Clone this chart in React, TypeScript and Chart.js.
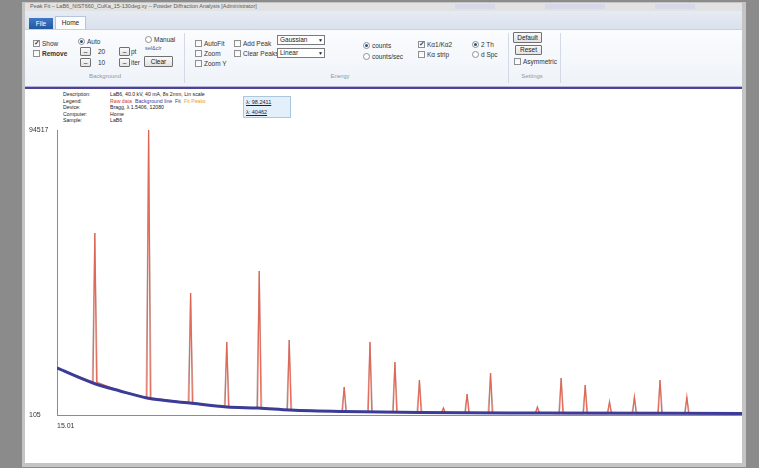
import React, { useEffect, useRef } from "react";
import { Chart, registerables } from "chart.js";

Chart.register(...registerables);

// LaB6 reference scan, Cu Kα — reflection positions (2θ, °) and peak intensities (counts)
const peakAngles = [21.36, 30.39, 37.44, 43.51, 48.96, 53.99, 63.22, 67.55, 71.74, 75.85, 79.88, 83.85, 87.79, 95.66, 99.64, 103.68, 107.76, 111.94, 116.24, 120.74];
const peakCounts = [60400, 94517, 40520, 24290, 47810, 24950, 9380, 24290, 17660, 11700, 2420, 7060, 14020, 2760, 12360, 10040, 4410, 6070, 11700, 6070];
// background level under each reflection
const peakBase = [11040, 5740, 4080, 2760, 2420, 1760, 1260, 1100, 1100, 930, 770, 770, 770, 770, 600, 600, 600, 600, 600, 600];

// fitted background line
const bgAngles = [15.01, 21.05, 25.59, 30.12, 37.34, 43.55, 48.75, 54.12, 63.02, 75.95, 96.09, 130];
const bgCounts = [15680, 10710, 8060, 5740, 4080, 2760, 2420, 1760, 1260, 930, 770, 600];

const xMin = 15.01;
const xMax = 130;
const yMin = 105;
const yMax = 94517;

const rawHalfWidth = 0.3;
const fitHalfWidth = 0.45;

type P = { x: number; y: number | null };

function rawProfile(): P[] {
  const pts: P[] = [];
  bgAngles.forEach((a, i) => {
    if (!peakAngles.some((p) => Math.abs(p - a) < rawHalfWidth + 0.05)) pts.push({ x: a, y: bgCounts[i] });
  });
  peakAngles.forEach((p, i) => {
    pts.push({ x: p - rawHalfWidth, y: peakBase[i] });
    pts.push({ x: p, y: peakCounts[i] });
    pts.push({ x: p + rawHalfWidth, y: peakBase[i] });
  });
  return pts.sort((a, b) => a.x - b.x);
}

function fitProfile(): P[] {
  const pts: P[] = [];
  peakAngles.forEach((p, i) => {
    pts.push({ x: p - fitHalfWidth, y: peakBase[i] });
    pts.push({ x: p, y: peakCounts[i] });
    pts.push({ x: p + fitHalfWidth, y: peakBase[i] });
    pts.push({ x: p + fitHalfWidth + 0.01, y: null });
  });
  return pts;
}

const UI = '"Liberation Sans", Arial, sans-serif';

function Txt(props: { x: number; y: number; s: string; size?: number; color?: string; bold?: boolean; w?: number; center?: boolean; underline?: boolean }) {
  const { x, y, s, size = 6.5, color = "#333", bold, w, center, underline } = props;
  return (
    <div
      style={{
        position: "absolute",
        left: x,
        top: y,
        width: w,
        textAlign: center ? "center" : "left",
        fontSize: size,
        lineHeight: `${size + 1}px`,
        color,
        fontWeight: bold ? 700 : 400,
        whiteSpace: "nowrap",
        textDecoration: underline ? "underline" : "none",
        fontFamily: UI,
      }}
    >
      {s}
    </div>
  );
}

function Box(props: { x: number; y: number; w: number; h: number; bg?: string; border?: string; radius?: number; children?: React.ReactNode }) {
  const { x, y, w, h, bg = "transparent", border, radius = 0, children } = props;
  return (
    <div
      style={{
        position: "absolute",
        left: x,
        top: y,
        width: w,
        height: h,
        background: bg,
        border: border ? `1px solid ${border}` : undefined,
        borderRadius: radius,
        boxSizing: "border-box",
      }}
    >
      {children}
    </div>
  );
}

function Check(props: { x: number; y: number; label: string; checked?: boolean; bold?: boolean }) {
  const { x, y, label, checked, bold } = props;
  return (
    <>
      <Box x={x} y={y} w={7} h={7} bg="linear-gradient(#f4f4f4,#ffffff)" border="#8e8f8f" />
      {checked && <Txt x={x + 0.5} y={y - 1.5} s="✓" size={7} color="#2a4a7a" bold />}
      <Txt x={x + 9} y={y - 0.5} s={label} bold={bold} />
    </>
  );
}

function Radio(props: { x: number; y: number; label: string; on?: boolean }) {
  const { x, y, label, on } = props;
  return (
    <>
      <Box x={x} y={y} w={7} h={7} bg="#fff" border="#8e8f8f" radius={4} />
      {on && <Box x={x + 2} y={y + 2} w={3} h={3} bg="#2f4f7f" radius={2} />}
      <Txt x={x + 9} y={y - 0.5} s={label} />
    </>
  );
}

function Btn(props: { x: number; y: number; w: number; h: number; label: string }) {
  const { x, y, w, h, label } = props;
  return (
    <Box x={x} y={y} w={w} h={h} bg="linear-gradient(#f9f9f9,#e3e3e3)" border="#707070" radius={1}>
      <div style={{ fontSize: 6.5, lineHeight: `${h - 2}px`, textAlign: "center", color: "#222", fontFamily: UI }}>{label}</div>
    </Box>
  );
}

function Combo(props: { x: number; y: number; w: number; label: string }) {
  const { x, y, w, label } = props;
  return (
    <Box x={x} y={y} w={w} h={10} bg="#fff" border="#7a7a7a">
      <div style={{ position: "absolute", left: 2, top: 0, fontSize: 6.5, lineHeight: "8px", color: "#222", fontFamily: UI }}>{label}</div>
      <div style={{ position: "absolute", right: 1, top: 0, fontSize: 5, lineHeight: "8px", color: "#222" }}>▼</div>
    </Box>
  );
}

function Ribbon() {
  return (
    <>
      {/* window frame */}
      <Box x={22} y={2} w={724} h={465} bg="#c4c4c4" />
      {/* title bar */}
      <Box x={25} y={3} w={717} h={8} bg="#e2e2e2" />
      <Txt x={30} y={3} s="Peak Fit  –  LaB6_NIST660_CuKa_15-130deg.xy  –  Powder Diffraction Analysis  [Administrator]" size={5.5} color="#5a5a5a" />
      <Box x={455} y={4} w={40} h={5} bg="#d6d8ea" />
      <Box x={545} y={4} w={60} h={5} bg="#d6d8ea" />
      <Box x={655} y={4} w={40} h={5} bg="#d6d8ea" />
      {/* tab strip */}
      <Box x={25} y={11} w={717} h={18} bg="linear-gradient(#e6ebf3,#d9e1ed)" />
      <Box x={29} y={18} w={24} h={11} bg="linear-gradient(#3f78c6,#24579f)" />
      <Txt x={29} y={20} w={24} center s="File" size={6.5} color="#fff" />
      <Box x={55} y={16} w={31} h={14} bg="#fafcfe" border="#b8c5d8" />
      <Txt x={55} y={19} w={31} center s="Home" size={6.5} color="#222" />
      {/* ribbon body */}
      <Box x={25} y={29} w={717} h={58} bg="linear-gradient(#fbfcfe,#eef3f9)" />
      <Box x={25} y={29} w={717} h={1} bg="#c6d2e2" />

      {/* Background group */}
      <Check x={33} y={40} label="Show" checked />
      <Check x={33} y={50} label="Remove" bold />
      <Radio x={78} y={38} label="Auto" on />
      <Btn x={80} y={47} w={11} h={9} label="–" />
      <Txt x={98} y={48} s="20" />
      <Btn x={119} y={47} w={11} h={9} label="–" />
      <Txt x={131} y={48} s="pt" />
      <Btn x={80} y={58} w={11} h={9} label="–" />
      <Txt x={98} y={59} s="10" />
      <Btn x={119} y={58} w={11} h={9} label="–" />
      <Txt x={131} y={59} s="iter" />
      <Radio x={145} y={36} label="Manual" />
      <Txt x={145} y={45} s="sel&clr" size={5.5} color="#45609a" />
      <Btn x={144} y={56} w={29} h={11} label="Clear" />
      <Txt x={70} y={73} w={70} center s="Background" size={6} color="#8d97a8" />
      <Box x={184} y={33} w={1} h={50} bg="#d3dae6" />

      {/* Peak group */}
      <Check x={195} y={40} label="AutoFit" />
      <Check x={195} y={50} label="Zoom" />
      <Check x={195} y={60} label="Zoom Y" />
      <Check x={234} y={40} label="Add Peak" />
      <Check x={234} y={50} label="Clear Peaks" />
      <Combo x={277} y={35} w={48} label="Gaussian" />
      <Combo x={277} y={48} w={48} label="Linear" />
      <Txt x={320} y={73} w={40} center s="Energy" size={6} color="#8d97a8" />
      <Radio x={363} y={42} label="counts" on />
      <Radio x={363} y={53} label="counts/sec" />
      <Check x={418} y={41} label="Kα1/Kα2" checked />
      <Check x={418} y={51} label="Kα strip" />
      <Radio x={472} y={41} label="2 Th" on />
      <Radio x={472} y={51} label="d Spc" />
      <Box x={508} y={33} w={1} h={50} bg="#d3dae6" />

      {/* Settings group */}
      <Btn x={513} y={32} w={29} h={11} label="Default" />
      <Btn x={515} y={45} w={27} h={10} label="Reset" />
      <Check x={514} y={58} label="Asymmetric" />
      <Txt x={512} y={73} w={40} center s="Settings" size={6} color="#8d97a8" />
      <Box x={560} y={33} w={1} h={50} bg="#d3dae6" />

      {/* divider above the plot */}
      <Box x={25} y={86} w={717} h={1} bg="#b8b3da" />
      <Box x={25} y={87} w={717} h={2} bg="#4a4493" />
      <Box x={25} y={89} w={717} h={374} bg="#ffffff" />
    </>
  );
}

function Header() {
  const keys = ["Description:", "Legend:", "Device:", "Computer:", "Sample:"];
  const fs = 5.2;
  return (
    <>
      {keys.map((k, i) => (
        <Txt key={k} x={63} y={91 + i * 6.6} s={k} size={fs} color="#222" />
      ))}
      <Txt x={110} y={91} s="LaB6, 40.0 kV, 40 mA, 8s 2mm, Lin scale" size={fs} color="#222" />
      <Txt x={110} y={97.6} s="Raw data" size={fs} color="#d43a2a" />
      <Txt x={135} y={97.6} s="Background line" size={fs} color="#3b3b98" />
      <Txt x={175} y={97.6} s="Fit" size={fs} color="#444" />
      <Txt x={184} y={97.6} s="Fit Peaks" size={fs} color="#f0a020" />
      <Txt x={110} y={104.2} s="Bragg, λ 1.5406, 12080" size={fs} color="#222" />
      <Txt x={110} y={110.8} s="Home" size={fs} color="#222" />
      <Txt x={110} y={117.4} s="LaB6" size={fs} color="#222" />
      <Box x={243} y={96} w={48} h={22} bg="#e3f0fb" border="#a9c8e0" />
      <Txt x={246} y={99} s="λ: 98.2411" size={5.5} color="#223" underline />
      <Txt x={246} y={109} s="λ: 40462" size={5.5} color="#223" underline />
    </>
  );
}

export default function App() {
  const ref = useRef<HTMLCanvasElement>(null);

  useEffect(() => {
    const canvas = ref.current;
    if (!canvas) return;
    const chart = new Chart(canvas, {
      type: "line",
      data: {
        datasets: [
          {
            label: "Background line",
            data: bgAngles.map((a, i) => ({ x: a, y: bgCounts[i] })),
            borderColor: "#3b3b98",
            borderWidth: 3,
            pointRadius: 0,
            cubicInterpolationMode: "monotone",
            order: 0,
          },
          {
            label: "Raw data",
            data: rawProfile(),
            borderColor: "rgba(226,86,66,0.85)",
            borderWidth: 1.3,
            pointRadius: 0,
            order: 1,
          },
          {
            label: "Fit",
            data: fitProfile(),
            borderColor: "rgba(150,150,150,0.7)",
            borderWidth: 0.8,
            pointRadius: 0,
            spanGaps: false,
            order: 2,
          },
        ],
      },
      options: {
        animation: false,
        responsive: false,
        maintainAspectRatio: false,
        layout: { padding: { top: 40, left: 4, right: 0, bottom: 0 } },
        plugins: { legend: { display: false }, tooltip: { enabled: false } },
        scales: {
          x: {
            type: "linear",
            min: xMin,
            max: xMax,
            grid: { display: false, drawTicks: false },
            border: { display: true, color: "#8c8c8c", width: 1 },
            afterBuildTicks: (s: any) => {
              s.ticks = [{ value: xMin }];
            },
            afterFit: (s: any) => {
              s.height = 48;
            },
            ticks: {
              align: "start",
              padding: 7,
              maxRotation: 0,
              font: { size: 7, family: UI },
              color: "#333",
              callback: (v: any) => Number(v).toFixed(2),
            },
          },
          y: {
            type: "linear",
            min: yMin,
            max: yMax,
            grid: { display: false, drawTicks: false },
            border: { display: true, color: "#8c8c8c", width: 1 },
            afterBuildTicks: (s: any) => {
              s.ticks = [{ value: yMin }, { value: yMax }];
            },
            afterFit: (s: any) => {
              s.width = 28;
            },
            ticks: {
              crossAlign: "far",
              font: { size: 7, family: UI },
              color: "#333",
              callback: (v: any) => String(v),
            },
          },
        },
      },
    });
    return () => chart.destroy();
  }, []);

  return (
    <div
      style={{
        position: "fixed",
        left: 0,
        top: 0,
        width: 759,
        height: 468,
        background: "#8b8b8b",
        overflow: "hidden",
        fontFamily: UI,
      }}
    >
      <Ribbon />
      <Header />
      <canvas ref={ref} width={717} height={373} style={{ position: "absolute", left: 25, top: 90, width: 717, height: 373 }} />
    </div>
  );
}
